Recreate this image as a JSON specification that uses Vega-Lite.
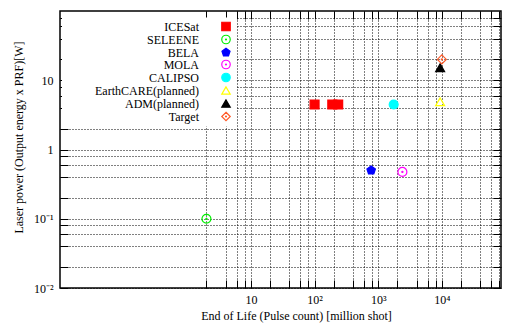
{
  "$schema": "https://vega.github.io/schema/vega-lite/v6.json",
  "width": 441,
  "height": 277,
  "autosize": {"type": "none"},
  "padding": {"left": 60, "top": 11, "right": 4, "bottom": 39},
  "background": "white",
  "config": {
    "font": "Liberation Serif",
    "view": {"stroke": "#000", "strokeWidth": 1.5},
    "axis": {
      "labelFont": "Liberation Serif",
      "labelFontSize": 12,
      "labelColor": "#000",
      "titleFont": "Liberation Serif",
      "titleFontSize": 12,
      "titleFontWeight": "normal",
      "titleColor": "#000",
      "domain": false,
      "tickColor": "#000",
      "tickSize": -8,
      "tickWidth": 1,
      "labelOverlap": false,
      "labelFlush": false,
      "gridColor": "#000",
      "gridDash": [1, 2],
      "gridOpacity": 1,
      "gridWidth": 1
    }
  },
  "data": {
    "values": [
      {"mission": "ICESat", "pulses": 100, "power": 4.46},
      {"mission": "ICESat", "pulses": 190, "power": 4.46},
      {"mission": "ICESat", "pulses": 235, "power": 4.46},
      {"mission": "SELEENE", "pulses": 2, "power": 0.1},
      {"mission": "BELA", "pulses": 775, "power": 0.5},
      {"mission": "MOLA", "pulses": 2400, "power": 0.475},
      {"mission": "CALIPSO", "pulses": 1750, "power": 4.46},
      {"mission": "EarthCARE(planned)", "pulses": 9400, "power": 4.9},
      {"mission": "ADM(planned)", "pulses": 9400, "power": 15.2},
      {"mission": "Target", "pulses": 10000, "power": 20}
    ]
  },
  "layer": [
    {
      "mark": {"type": "point", "strokeWidth": 1.2, "opacity": 1, "size": 80},
      "encoding": {
        "x": {
          "field": "pulses", "type": "quantitative",
          "scale": {"type": "log", "domain": [0.01, 85000], "nice": false},
          "axis": {
            "orient": "bottom",
            "values": [2,4,6,8,10,20,40,60,80,100,200,400,600,800,1000,2000,4000,6000,8000,10000,20000,40000,60000,80000],
            "labelExpr": "datum.value == 10 ? '10' : datum.value == 100 ? '10²' : datum.value == 1000 ? '10³' : datum.value == 10000 ? '10⁴' : ''",
            "labelPadding": 14,
            "grid": true,
            "title": "End of Life (Pulse count) [million shot]",
            "titleX": 236,
            "titleY": 27,
            "titleBaseline": "middle",
            "titleAlign": "center"
          }
        },
        "y": {
          "field": "power", "type": "quantitative",
          "scale": {"type": "log", "domain": [0.01, 100], "nice": false},
          "axis": {
            "orient": "left",
            "values": [0.01,0.02,0.04,0.06,0.08,0.1,0.2,0.4,0.6,0.8,1,2,4,6,8,10,20,40,60,80],
            "labelExpr": "datum.value == 0.01 ? '10⁻²' : datum.value == 0.1 ? '10⁻¹' : datum.value == 1 ? '1' : datum.value == 10 ? '10' : ''",
            "labelPadding": 15,
            "grid": true,
            "title": "Laser power (Output energy x PRF)[W]",
            "titleX": -42,
            "titleY": 126,
            "titleAngle": -90,
            "titleBaseline": "middle",
            "titleAlign": "center"
          }
        },
        "shape": {
          "field": "mission", "type": "nominal",
          "scale": {
            "domain": ["ICESat", "SELEENE", "BELA", "MOLA", "CALIPSO", "EarthCARE(planned)", "ADM(planned)", "Target"],
            "range": [
              "square",
              "M1,0A1,1,0,1,1,-1,0A1,1,0,1,1,1,0ZM0.12,0A0.12,0.12,0,1,1,-0.12,0A0.12,0.12,0,1,1,0.12,0Z",
              "M0,-1L0.951,-0.309L0.588,0.809L-0.588,0.809L-0.951,-0.309Z",
              "M1,0A1,1,0,1,1,-1,0A1,1,0,1,1,1,0ZM0.12,0A0.12,0.12,0,1,1,-0.12,0A0.12,0.12,0,1,1,0.12,0Z",
              "circle",
              "triangle-up",
              "triangle-up",
              "M0,-1L1,0L0,1L-1,0ZM0.12,0A0.12,0.12,0,1,1,-0.12,0A0.12,0.12,0,1,1,0.12,0Z"
            ]
          },
          "legend": {
            "title": null,
            "orient": "none",
            "legendX": 2,
            "legendY": 6.5,
            "labelAlign": "right",
            "labelOffset": -33,
            "symbolOffset": 155,
            "labelFont": "Liberation Serif",
            "labelFontSize": 12,
            "labelColor": "#000",
            "symbolSize": 72,
            "symbolStrokeWidth": 1.2,
            "rowPadding": -4,
            "fillColor": "white",
            "padding": 3
          }
        },
        "fill": {
          "field": "mission", "type": "nominal",
          "scale": {
            "domain": ["ICESat", "SELEENE", "BELA", "MOLA", "CALIPSO", "EarthCARE(planned)", "ADM(planned)", "Target"],
            "range": ["#ff0000", "transparent", "#0000ff", "transparent", "#00ffff", "transparent", "#000000", "transparent"]
          }
        },
        "stroke": {
          "field": "mission", "type": "nominal",
          "scale": {
            "domain": ["ICESat", "SELEENE", "BELA", "MOLA", "CALIPSO", "EarthCARE(planned)", "ADM(planned)", "Target"],
            "range": ["#ff0000", "#00ee00", "#0000ff", "#ff00ff", "#00ffff", "#ffff00", "#000000", "#ff5a28"]
          }
        }
      }
    },
    {
      "mark": {"type": "point", "opacity": 0},
      "encoding": {
        "x": {
          "field": "pulses", "type": "quantitative",
          "axis": {
            "orient": "top",
            "values": [2,4,6,8,10,20,40,60,80,100,200,400,600,800,1000,2000,4000,6000,8000,10000,20000,40000,60000,80000],
            "labels": false,
            "grid": false,
            "title": null
          }
        },
        "y": {
          "field": "power", "type": "quantitative",
          "axis": {
            "orient": "right",
            "values": [0.01,0.02,0.04,0.06,0.08,0.1,0.2,0.4,0.6,0.8,1,2,4,6,8,10,20,40,60,80],
            "labels": false,
            "grid": false,
            "title": null
          }
        }
      }
    }
  ],
  "resolve": {"axis": {"x": "independent", "y": "independent"}}
}
